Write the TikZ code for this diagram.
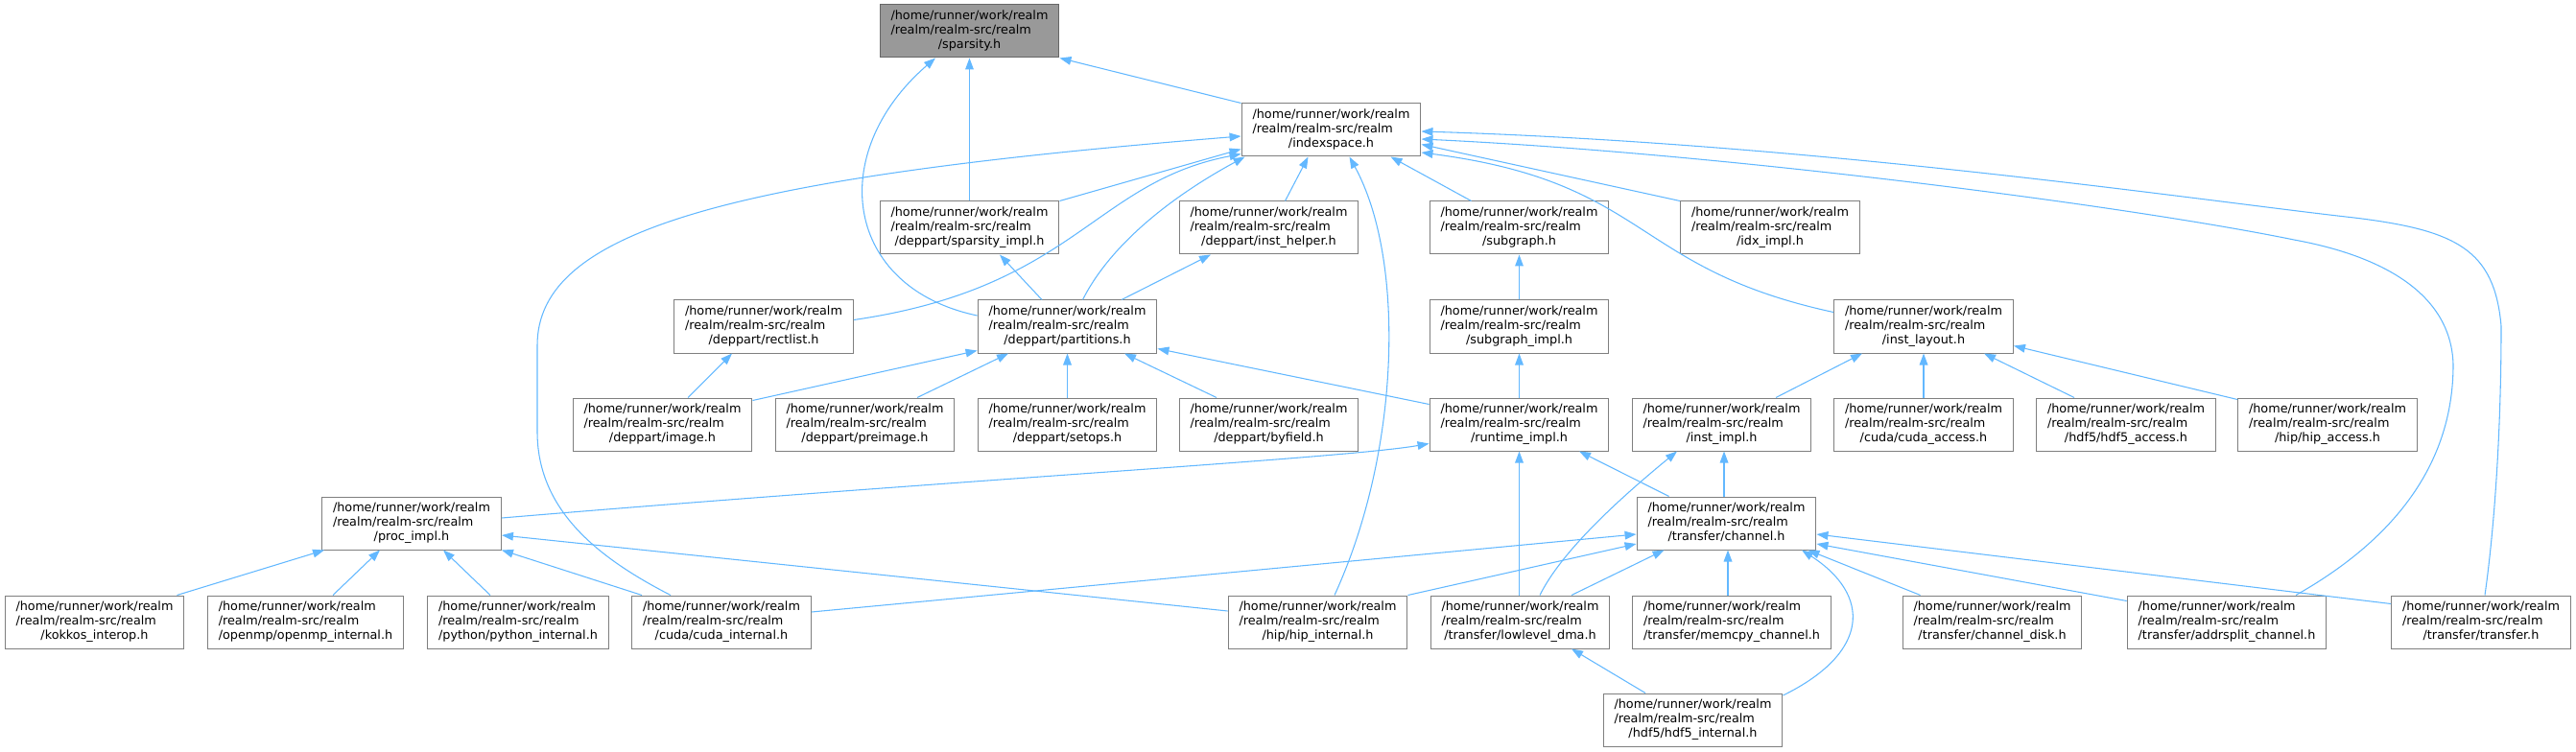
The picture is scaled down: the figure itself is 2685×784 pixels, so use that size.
\documentclass[tikz,border=0pt]{standalone}
\usepackage{fontspec}
\setmainfont{DejaVu Sans}
\usepackage{tikz}
\usetikzlibrary{arrows.meta,calc}
\definecolor{boxgray}{HTML}{999999}
\definecolor{rootgray}{HTML}{666666}
\definecolor{edgegray}{HTML}{7F7F7F}
\definecolor{deplink}{HTML}{63B8FF}
\newcommand{\realmpath}[1]{\fontsize{9.6pt}{11.25pt}\selectfont
  \begin{tabular}{@{}l@{}}/home/runner/work/realm\\/realm/realm-src/realm\\\multicolumn{1}{@{}c@{}}{#1}\end{tabular}}

\begin{document}
\begin{tikzpicture}[x=0.75pt,y=-0.75pt,
  hdr/.style={draw=edgegray,fill=white,line width=0.75pt,inner xsep=8.6pt,inner ysep=0pt,minimum height=41.25pt},
  hdrroot/.style={hdr,draw=rootgray,fill=boxgray},
  dep/.style={draw=deplink,line width=0.8pt,-{Triangle[length=9pt,width=6.5pt]}}]
\useasboundingbox (0,0) rectangle (2685,784);
\node[hdrroot] (sparsity) at (1010.5,32.5) {\realmpath{/sparsity.h}};
\node[hdr] (indexspace) at (1387.5,135.5) {\realmpath{/indexspace.h}};
\node[hdr] (sparsityimpl) at (1010.5,237.5) {\realmpath{/deppart/sparsity\_impl.h}};
\node[hdr] (insthelper) at (1322.5,237.5) {\realmpath{/deppart/inst\_helper.h}};
\node[hdr] (subgraph) at (1583.5,237.5) {\realmpath{/subgraph.h}};
\node[hdr] (idximpl) at (1845,237.5) {\realmpath{/idx\_impl.h}};
\node[hdr] (rectlist) at (796,340.5) {\realmpath{/deppart/rectlist.h}};
\node[hdr] (partitions) at (1112.5,340.5) {\realmpath{/deppart/partitions.h}};
\node[hdr] (subgraphimpl) at (1583.5,340.5) {\realmpath{/subgraph\_impl.h}};
\node[hdr] (instlayout) at (2005,340.5) {\realmpath{/inst\_layout.h}};
\node[hdr] (image) at (690.5,442.5) {\realmpath{/deppart/image.h}};
\node[hdr] (preimage) at (901.5,442.5) {\realmpath{/deppart/preimage.h}};
\node[hdr] (setops) at (1112.5,442.5) {\realmpath{/deppart/setops.h}};
\node[hdr] (byfield) at (1322.5,442.5) {\realmpath{/deppart/byfield.h}};
\node[hdr] (runtimeimpl) at (1583.5,442.5) {\realmpath{/runtime\_impl.h}};
\node[hdr] (instimpl) at (1794.5,442.5) {\realmpath{/inst\_impl.h}};
\node[hdr] (cudaaccess) at (2005,442.5) {\realmpath{/cuda/cuda\_access.h}};
\node[hdr] (hdfaccess) at (2216,442.5) {\realmpath{/hdf5/hdf5\_access.h}};
\node[hdr] (hipaccess) at (2426,442.5) {\realmpath{/hip/hip\_access.h}};
\node[hdr] (procimpl) at (429,545.5) {\realmpath{/proc\_impl.h}};
\node[hdr] (channel) at (1799.5,545.5) {\realmpath{/transfer/channel.h}};
\node[hdr] (kokkos) at (98.5,648.5) {\realmpath{/kokkos\_interop.h}};
\node[hdr] (openmp) at (318.5,648.5) {\realmpath{/openmp/openmp\_internal.h}};
\node[hdr] (python) at (540,648.5) {\realmpath{/python/python\_internal.h}};
\node[hdr] (cudainternal) at (752,648.5) {\realmpath{/cuda/cuda\_internal.h}};
\node[hdr] (hipinternal) at (1373.5,648.5) {\realmpath{/hip/hip\_internal.h}};
\node[hdr] (lowleveldma) at (1584.5,648.5) {\realmpath{/transfer/lowlevel\_dma.h}};
\node[hdr] (memcpy) at (1805,648.5) {\realmpath{/transfer/memcpy\_channel.h}};
\node[hdr] (channeldisk) at (2076.5,648.5) {\realmpath{/transfer/channel\_disk.h}};
\node[hdr] (addrsplit) at (2321,648.5) {\realmpath{/transfer/addrsplit\_channel.h}};
\node[hdr] (transfer) at (2586,648.5) {\realmpath{/transfer/transfer.h}};
\node[hdr] (hdfinternal) at (1764.5,750.5) {\realmpath{/hdf5/hdf5\_internal.h}};

\draw[dep] (indexspace.north west) -- (sparsity.south east);
\draw[dep] (sparsityimpl) -- (sparsity);
\draw[dep] ($(partitions.west)+(0,-11.5)$) .. controls (880,300) and (860,160) .. ($(sparsity.south)+(-35.5,0)$);
\draw[dep] (sparsityimpl.north east) -- ($(indexspace.west)+(0,20)$);
\draw[dep] ($(insthelper.north)+(17,0)$) -- ($(indexspace.south)+(-24,0)$);
\draw[dep] ($(subgraph.north)+(-50,0)$) -- ($(indexspace.south)+(62,0)$);
\draw[dep] (idximpl.north west) -- ($(indexspace.east)+(0,15)$);
\draw[dep] ($(rectlist.east)+(0,-7)$) .. controls (1120,300) and (1140,190) .. ($(indexspace.south west)+(0,-3)$);
\draw[dep] ($(partitions.north)+(16,0)$) .. controls (1160,250) and (1230,200) .. ($(indexspace.south west)+(4,0)$);
\draw[dep] ($(cudainternal.north)+(-53,0)$) .. controls (620,580) and (560,530) .. (560,450) -- (560,360) .. controls (560,240) and (760,185) .. ($(indexspace.west)+(0,6.5)$);
\draw[dep] ($(hipinternal.north)+(17.5,0)$) .. controls (1460,470) and (1465,270) .. ($(indexspace.south)+(19,0)$);
\draw[dep] ($(instlayout.north west)+(0,13)$) .. controls (1700,280) and (1720,190) .. ($(indexspace.east)+(0,23.5)$);
\draw[dep] ($(addrsplit.north)+(72,0)$) .. controls (2500,560) and (2557,480) .. (2557,380) .. controls (2555,310) and (2490,268) .. (2391,250) .. controls (2220,215) and (1800,160) .. ($(indexspace.east)+(0,9.5)$);
\draw[dep] ($(transfer.north)+(4,0)$) .. controls (2600,550) and (2607,450) .. (2607,340) .. controls (2600,260) and (2560,240) .. (2454,227) .. controls (2300,210) and (1900,150) .. ($(indexspace.east)+(0,1.5)$);
\draw[dep] ($(image.north)+(26.5,0)$) -- ($(rectlist.south)+(-33,0)$);
\draw[dep] ($(image.north east)+(0,3)$) -- ($(partitions.south west)+(0,-3)$);
\draw[dep] ($(preimage.north)+(54.5,0)$) -- ($(partitions.south)+(-61.5,0)$);
\draw[dep] (setops) -- (partitions);
\draw[dep] ($(byfield.north)+(-54.5,0)$) -- ($(partitions.south)+(59.5,0)$);
\draw[dep] ($(runtimeimpl.north west)+(0,7)$) -- ($(partitions.south east)+(0,-5)$);
\draw[dep] ($(partitions.north)+(-26.5,0)$) -- ($(sparsityimpl.south)+(31.5,0)$);
\draw[dep] ($(partitions.north)+(56.5,0)$) -- ($(insthelper.south)+(-60.5,0)$);
\draw[dep] (subgraphimpl) -- (subgraph);
\draw[dep] (runtimeimpl) -- (subgraphimpl);
\draw[dep] ($(instimpl.north)+(56.5,0)$) -- ($(instlayout.south)+(-64,0)$);
\draw[dep] (cudaaccess) -- (instlayout);
\draw[dep] ($(hdfaccess.north)+(-54,0)$) -- ($(instlayout.south)+(63,0)$);
\draw[dep] ($(hipaccess.north west)+(0,2)$) -- ($(instlayout.south east)+(0,-8)$);
\draw[dep] ($(kokkos.north east)+(-8,0)$) -- ($(procimpl.south west)+(3,0)$);
\draw[dep] ($(openmp.north)+(28.5,0)$) -- ($(procimpl.south)+(-33,0)$);
\draw[dep] ($(python.north)+(-29,0)$) -- ($(procimpl.south)+(33,0)$);
\draw[dep] ($(cudainternal.north west)+(11,0)$) -- (procimpl.south east);
\draw[dep] ($(procimpl.east)+(0,-5.5)$) .. controls (1000,500) and (1400,478) .. ($(runtimeimpl.west)+(0,20)$);
\draw[dep] ($(hipinternal.west)+(0,-11.5)$) -- ($(procimpl.east)+(0,12.5)$);
\draw[dep] ($(cudainternal.east)+(0,-10.5)$) -- ($(channel.west)+(0,11.5)$);
\draw[dep] (hipinternal.north east) -- ($(channel.west)+(0,21.5)$);
\draw[dep] ($(lowleveldma.north)+(53.5,0)$) -- ($(channel.south west)+(29,0)$);
\draw[dep] ($(memcpy.north)+(-4,0)$) -- ($(channel.south)+(1.5,0)$);
\draw[dep] ($(hdfinternal.east)+(0,-25.5)$) .. controls (1950,680) and (1950,620) .. ($(channel.south)+(78.5,0)$);
\draw[dep] ($(channeldisk.north west)+(19,0)$) -- ($(channel.south east)+(-9,0)$);
\draw[dep] ($(addrsplit.north west)+(0,6)$) -- ($(channel.east)+(0,21.5)$);
\draw[dep] ($(transfer.north west)+(0,9)$) -- ($(channel.east)+(0,11.5)$);
\draw[dep] ($(channel.north west)+(34,0)$) -- ($(runtimeimpl.south)+(62.5,0)$);
\draw[dep] ($(channel.north)+(-2.5,0)$) -- ($(instimpl.south)+(2.5,0)$);
\draw[dep] ($(lowleveldma.north)+(20.5,0)$) .. controls (1630,570) and (1700,510) .. ($(instimpl.south)+(-46.5,0)$);
\draw[dep] ($(lowleveldma.north)+(-1,0)$) -- (runtimeimpl.south);
\draw[dep] ($(hdfinternal.north)+(-49.5,0)$) -- ($(lowleveldma.south)+(53.5,0)$);
\end{tikzpicture}
\end{document}
